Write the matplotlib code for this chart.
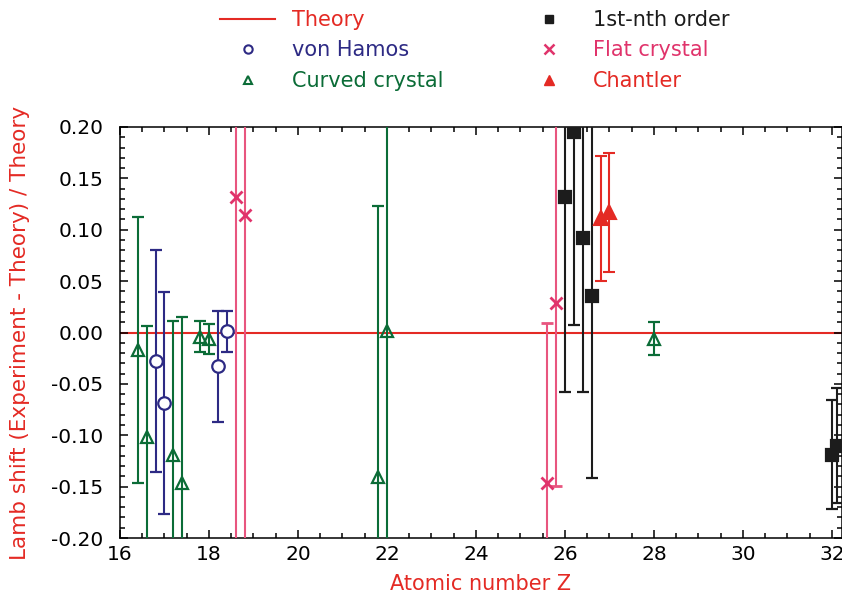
import numpy as np
import matplotlib
matplotlib.use('Agg')
import matplotlib.pyplot as plt
from matplotlib.lines import Line2D
from matplotlib.ticker import MultipleLocator, FormatStrFormatter

plt.rcParams['font.family'] = 'DejaVu Sans'
plt.rcParams['axes.unicode_minus'] = False

# von Hamos
vh_z = [16.8, 17.0, 18.2, 18.4]
vh_y = [-0.028, -0.069, -0.033, 0.001]
vh_e = [0.108, 0.108, 0.054, 0.0195]

# curved crystal
cc_z = [16.4, 16.6, 17.2, 17.4, 17.8, 18.0, 21.8, 22.0, 28.0]
cc_y = [-0.017, -0.102, -0.119, -0.146, -0.004, -0.006, -0.141, 0.001, -0.006]
cc_e = [0.129, 0.108, 0.130, 0.161, 0.015, 0.0145, 0.264, 0.30, 0.016]

# flat crystal
fc_z = [18.6, 18.8, 25.6, 25.8]
fc_y = [0.132, 0.114, -0.146, 0.029]
fc_e = [0.50, 0.50, 0.155, 0.178]

# 1st-nth order
no_z = [26.0, 26.2, 26.4, 26.6, 32.0, 32.12]
no_y = [0.132, 0.195, 0.092, 0.036, -0.119, -0.110]
no_e = [0.190, 0.188, 0.150, 0.178, 0.053, 0.056]

# Chantler
ch_z = [26.8, 27.0]
ch_y = [0.111, 0.117]
ch_e = [0.061, 0.058]

red = '#e42a24'
blue = '#2d2a84'
green = '#0b6c37'
pink = '#e0336b'
black = '#1c1c1c'

fig = plt.figure(figsize=(8.42, 6.08), dpi=100)
ax = fig.add_axes([120/842, 1-538/608, (842-120)/842, (538-127)/608])

ax.axhline(0, color=red, lw=1.5, zorder=1)

kw = dict(ms=9, mew=1.6, elinewidth=1.5, capsize=4, capthick=1.5, zorder=3)
ax.errorbar(cc_z, cc_y, yerr=cc_e, fmt='^', color=green, mfc='none', **kw)
ax.errorbar(vh_z, vh_y, yerr=vh_e, fmt='o', color=blue, mfc='white', **kw)
ax.errorbar(fc_z, fc_y, yerr=fc_e, fmt='x', color=pink, ecolor='#e8557f', ms=9, mew=2,
            elinewidth=1.5, capsize=4, capthick=1.5, zorder=3)
ax.errorbar(no_z, no_y, yerr=no_e, fmt='s', color=black, **kw)
ax.errorbar(ch_z, ch_y, yerr=ch_e, fmt='^', color=red, ms=10, mew=1.5, elinewidth=1.5,
            capsize=4, capthick=1.5, zorder=3)

ax.set_xlim(16, 32.225)
ax.set_ylim(-0.2, 0.2)
ax.xaxis.set_major_locator(MultipleLocator(2))
ax.xaxis.set_minor_locator(MultipleLocator(0.5))
ax.yaxis.set_major_locator(MultipleLocator(0.05))
ax.yaxis.set_minor_locator(MultipleLocator(0.01))
ax.yaxis.set_major_formatter(FormatStrFormatter('%.2f'))
ax.tick_params(which='both', direction='in', top=True, right=True, width=1.1, labelsize=14.5)
ax.tick_params(which='major', length=6)
ax.tick_params(which='minor', length=3.5)
ax.tick_params(axis='y', pad=12)
ax.tick_params(axis='x', pad=5)
for s in ax.spines.values():
    s.set_linewidth(1.1)

ax.set_xlabel('Atomic number Z', color=red, fontsize=15, labelpad=7)
ax.set_ylabel('Lamb shift (Experiment - Theory) / Theory', color=red, fontsize=15.5, labelpad=15)

handles = [
    Line2D([], [], color=red, lw=1.5),
    Line2D([], [], ls='none', marker='o', color=blue, mfc='none', ms=6, mew=1.5),
    Line2D([], [], ls='none', marker='^', color=green, mfc='none', ms=6, mew=1.5),
    Line2D([], [], ls='none', marker='s', color=black, ms=6),
    Line2D([], [], ls='none', marker='x', color=pink, ms=7, mew=1.8),
    Line2D([], [], ls='none', marker='^', color=red, ms=7),
]
labels = ['Theory', 'von Hamos', 'Curved crystal', '1st-nth order', 'Flat crystal', 'Chantler']
leg = fig.legend(handles, labels, ncol=2, loc='upper left', bbox_to_anchor=(220/842, 1-10/608),
                 frameon=False, fontsize=15, borderpad=0, borderaxespad=0,
                 handlelength=2.65, handletextpad=0.8, columnspacing=3.75, labelspacing=0.5)
for t, c in zip(leg.get_texts(), [red, blue, green, black, pink, red]):
    t.set_color(c)

fig.savefig('out.png', dpi=100)
